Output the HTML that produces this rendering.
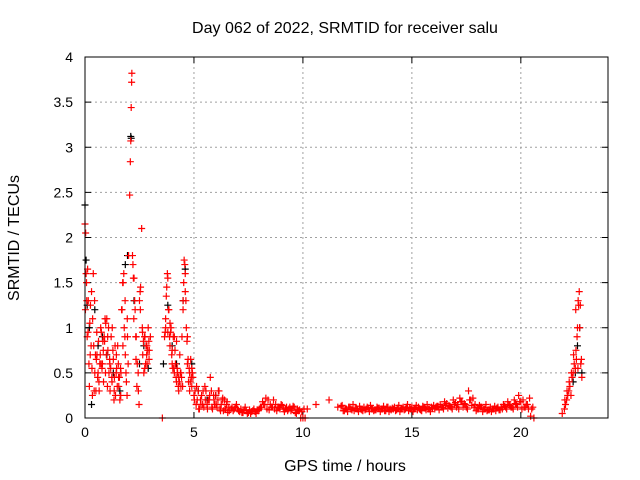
<!DOCTYPE html>
<html><head><meta charset="utf-8"><style>
body{margin:0;background:#fff}
svg{display:block;font-family:"Liberation Sans",sans-serif}
</style></head><body>
<svg id="c" width="640" height="480">
<rect x="0" y="0" width="640" height="480" fill="#fff"/>
<text x="345" y="33" font-size="16" text-anchor="middle">Day 062 of 2022, SRMTID for receiver salu</text>
<text x="345" y="471" font-size="16" text-anchor="middle">GPS time / hours</text>
<text transform="translate(19,238) rotate(-90)" font-size="16" text-anchor="middle">SRMTID / TECUs</text>
<g id="grid"></g><g id="ticks"></g><g id="black"></g><g id="red"></g>
<rect x="85" y="57" width="523" height="361" fill="none" stroke="#000"/>
</svg>
<script>
const xTicks=[0,5,10,15,20];
const yTicks=[0,0.5,1,1.5,2,2.5,3,3.5,4];
const yTickLabels=["0","0.5","1","1.5","2","2.5","3","3.5","4"];
const redT=[0,0.03,0.05,0.08,0.1,0.12,0.15,0.18,0.2,0.22,0.25,0.28,0.3,0.32,0.35,0.38,0.4,0.42,0.45,0.48,0.5,0.52,0.55,0.58,0.6,0.62,0.65,0.68,0.7,0.72,0.75,0.78,0.8,0.82,0.85,0.88,0.9,0.92,0.95,0.98,1,1.03,1.05,1.08,1.1,1.13,1.15,1.18,1.2,1.23,1.25,1.28,1.3,1.33,1.35,1.38,1.4,1.43,1.45,1.48,1.5,1.53,1.55,1.58,1.6,1.63,1.65,1.68,1.7,1.73,1.75,1.78,1.8,1.83,1.85,1.88,1.9,1.93,1.95,1.98,2,2.05,2.08,2.1,2.12,2.14,2.15,2.18,2.2,2.22,2.25,2.28,2.3,2.33,2.35,2.38,2.4,2.45,2.48,2.5,2.53,2.55,2.6,2.63,2.65,2.68,2.7,2.73,2.75,2.78,2.8,2.83,2.85,2.88,2.9,2.93,2.95,3,3.55,3.65,3.68,3.7,3.73,3.75,3.78,3.8,3.83,3.85,3.88,3.9,3.93,3.95,3.98,4,4.03,4.05,4.08,4.1,4.13,4.15,4.18,4.2,4.23,4.25,4.28,4.3,4.33,4.35,4.38,4.4,4.43,4.45,4.48,4.5,4.53,4.55,4.58,4.6,4.63,4.65,4.68,4.7,4.73,4.75,4.78,4.8,4.83,4.85,4.88,4.9,4.93,4.95,5,5.05,5.1,5.15,5.2,5.25,5.3,5.35,5.4,5.45,5.5,5.55,5.6,5.65,5.7,5.75,5.8,5.85,5.9,5.95,6,6.05,6.1,6.15,6.2,6.25,6.3,6.35,6.4,6.45,6.5,6.55,6.6,6.7,6.8,6.9,7,7.1,7.2,7.3,7.4,7.5,7.6,7.7,7.8,7.9,8,8.1,8.2,8.3,8.4,8.5,8.6,8.7,8.8,8.9,9,9.1,9.2,9.3,9.4,9.5,9.6,9.7,9.8,9.9,10,10.1,10.2,10.6,11.2,11.6,11.8,11.9,12,12.1,12.2,12.3,12.4,12.5,12.6,12.7,12.8,12.9,13,13.1,13.2,13.3,13.4,13.5,13.6,13.7,13.8,13.9,14,14.1,14.2,14.3,14.4,14.5,14.6,14.7,14.8,14.9,15,15.1,15.2,15.3,15.4,15.5,15.6,15.7,15.8,15.9,16,16.1,16.2,16.3,16.4,16.5,16.6,16.7,16.8,16.9,17,17.1,17.2,17.3,17.4,17.5,17.6,17.7,17.8,17.9,18,18.1,18.2,18.3,18.4,18.5,18.6,18.7,18.8,18.9,19,19.1,19.2,19.3,19.4,19.5,19.6,19.7,19.8,19.9,20,20.1,20.2,20.3,20.4,20.5,20.6,21.9,22,22.05,22.1,22.15,22.2,22.25,22.3,22.35,22.4,22.45,22.5,22.53,22.55,22.58,22.6,22.63,22.65,22.68,22.7,22.73,22.75,22.78,22.8,22.85];
const redV=[2.15,2.05,1.6,1.3,0.9,1.65,1.3,0.6,0.35,1.05,1.25,0.8,1.4,0.55,1.1,1.6,0.8,0.3,0.5,0.7,0.3,0.65,0.7,0.45,0.5,0.85,0.3,0.6,0.7,1.0,0.95,0.55,0.6,0.85,0.4,0.9,0.85,1.1,1.05,0.7,1.1,0.35,0.75,1.0,0.5,0.65,0.3,0.55,0.9,0.45,1.0,0.75,0.65,0.2,0.45,0.8,0.25,0.5,0.55,0.35,0.8,0.6,0.35,0.45,0.2,0.55,0.5,1.2,1.2,1.5,1.5,1.6,1.0,0.9,0.7,0.5,0.4,0.25,0.9,0.6,1.8,2.47,2.84,3.07,3.44,3.72,3.82,1.8,1.7,1.55,1.55,1.3,1.2,0.9,0.9,0.35,0.6,0.3,0.15,1.3,1.4,1.45,2.1,1.0,0.7,0.85,0.5,0.9,0.9,0.6,0.8,0.7,0.6,0.75,1.0,0.85,0.75,0.9,0.0,0.9,0.95,1.0,1.35,1.45,1.6,1.55,1.2,1.2,0.9,0.8,0.95,1.0,0.7,0.75,0.55,0.9,0.55,0.9,0.75,0.6,0.45,0.4,0.55,0.5,0.35,0.3,0.4,0.7,0.5,0.5,0.45,0.9,0.35,1.3,1.5,1.75,1.7,1.6,1.3,1.0,0.85,0.6,0.65,0.4,0.55,0.5,0.4,0.65,0.45,0.35,0.5,0.45,0.25,0.3,0.15,0.2,0.3,0.1,0.2,0.25,0.15,0.12,0.35,0.3,0.15,0.2,0.2,0.45,0.3,0.1,0.25,0.15,0.25,0.12,0.2,0.3,0.1,0.15,0.2,0.08,0.2,0.1,0.15,0.06,0.12,0.1,0.08,0.12,0.1,0.07,0.06,0.09,0.08,0.06,0.05,0.08,0.07,0.09,0.1,0.12,0.15,0.22,0.2,0.15,0.12,0.1,0.08,0.12,0.15,0.1,0.1,0.08,0.12,0.1,0.12,0.05,0.08,0.0,0.0,0.0,0.1,0.15,0.2,0.12,0.14,0.08,0.1,0.12,0.1,0.15,0.11,0.1,0.13,0.09,0.12,0.1,0.11,0.14,0.1,0.09,0.12,0.11,0.1,0.13,0.08,0.12,0.1,0.11,0.12,0.09,0.14,0.1,0.12,0.1,0.15,0.11,0.12,0.1,0.14,0.12,0.09,0.13,0.11,0.15,0.1,0.12,0.14,0.12,0.13,0.15,0.12,0.18,0.16,0.14,0.12,0.2,0.17,0.15,0.22,0.18,0.16,0.12,0.3,0.2,0.22,0.15,0.1,0.14,0.12,0.1,0.15,0.09,0.12,0.1,0.13,0.11,0.09,0.12,0.15,0.12,0.18,0.14,0.12,0.2,0.15,0.25,0.18,0.2,0.12,0.15,0.22,0.1,0.0,0.05,0.1,0.15,0.2,0.25,0.3,0.35,0.25,0.45,0.5,0.6,0.55,0.75,0.65,0.9,1.0,1.3,1.25,1.4,1.0,1.25,0.6,0.65,0.45];
const red2T=[0.02,0.07,0.14,0.24,0.34,0.44,0.54,0.64,0.74,0.84,0.94,1.04,1.14,1.24,1.34,1.44,1.54,1.64,1.74,1.84,1.94,2.24,2.34,2.44,2.54,2.64,2.74,2.84,2.94,3.7,3.8,3.9,4.0,4.1,4.2,4.3,4.4,4.5,4.6,4.7,4.8,4.9,5.02,5.12,5.22,5.32,5.42,5.52,5.62,5.72,5.82,5.92,6.02,6.12,6.22,6.32,6.42,6.52,6.62,6.75,6.85,6.95,7.05,7.15,7.25,7.35,7.45,7.55,7.65,7.75,7.85,7.95,8.05,8.15,8.25,8.35,8.45,8.55,8.65,8.75,8.85,8.95,9.05,9.15,9.25,9.35,9.45,9.55,9.65,9.75,9.85,9.95,10.05,11.75,11.85,11.95,12.05,12.15,12.25,12.35,12.45,12.55,12.65,12.75,12.85,12.95,13.05,13.15,13.25,13.35,13.45,13.55,13.65,13.75,13.85,13.95,14.05,14.15,14.25,14.35,14.45,14.55,14.65,14.75,14.85,14.95,15.05,15.15,15.25,15.35,15.45,15.55,15.65,15.75,15.85,15.95,16.05,16.15,16.25,16.35,16.45,16.55,16.65,16.75,16.85,16.95,17.05,17.15,17.25,17.35,17.45,17.55,17.65,17.75,17.85,17.95,18.05,18.15,18.25,18.35,18.45,18.55,18.65,18.75,18.85,18.95,19.05,19.15,19.25,19.35,19.45,19.55,19.65,19.75,19.85,19.95,20.05,20.15,20.25,20.35,20.45,20.55,22.02,22.12,22.22,22.32,22.42,22.52,22.62,22.72,22.82];
const red2V=[1.2,1.5,0.95,0.7,0.25,1.3,0.95,0.4,0.6,0.75,0.5,0.9,0.6,0.4,0.3,0.7,0.45,0.25,0.8,1.3,1.1,1.1,0.65,0.5,1.2,0.95,0.55,0.8,0.65,1.1,0.95,1.05,0.6,0.5,0.85,0.45,0.35,1.2,1.4,0.9,0.3,0.55,0.2,0.35,0.1,0.15,0.3,0.2,0.1,0.25,0.12,0.2,0.15,0.3,0.08,0.22,0.1,0.18,0.08,0.12,0.1,0.15,0.08,0.1,0.06,0.12,0.05,0.09,0.07,0.1,0.05,0.08,0.12,0.18,0.15,0.1,0.09,0.12,0.2,0.15,0.12,0.1,0.14,0.07,0.12,0.1,0.08,0.13,0.06,0.1,0.09,0.07,0.1,0.13,0.08,0.1,0.07,0.12,0.09,0.08,0.11,0.07,0.1,0.08,0.09,0.12,0.07,0.1,0.08,0.09,0.11,0.07,0.1,0.08,0.12,0.07,0.09,0.1,0.08,0.11,0.07,0.1,0.09,0.12,0.08,0.1,0.07,0.11,0.09,0.1,0.08,0.12,0.09,0.1,0.07,0.11,0.1,0.13,0.09,0.12,0.1,0.14,0.11,0.13,0.1,0.15,0.12,0.1,0.18,0.12,0.15,0.1,0.2,0.14,0.12,0.08,0.1,0.12,0.07,0.1,0.08,0.09,0.07,0.1,0.08,0.12,0.09,0.1,0.13,0.1,0.15,0.12,0.1,0.16,0.12,0.18,0.1,0.12,0.15,0.1,0.02,0.12,0.2,0.3,0.4,0.5,0.7,1.2,0.55];
const blackT=[0,0.05,0.1,0.2,0.3,0.45,0.6,0.8,1.0,1.3,1.6,1.85,1.95,2.1,2.12,2.25,2.5,2.7,2.9,3.6,3.8,4.0,4.2,4.5,4.6,4.9,5.2,5.6,6.0,22.4,22.5,22.6,22.7,22.8];
const blackV=[2.36,1.75,1.25,1.0,0.15,1.2,0.8,0.9,0.7,0.5,0.3,1.7,1.8,3.12,3.1,1.3,0.6,0.8,0.55,0.6,1.25,0.8,0.6,1.3,1.65,0.6,0.3,0.2,0.25,0.4,0.5,0.8,1.0,0.5];
const X0=85,X1=608,Y0=418,Y1=57;
const xs=t=>X0+(X1-X0)*t/24, ys=v=>Y0-(Y0-Y1)*v/4;
const NS="http://www.w3.org/2000/svg";
function mk(tag,at,par){const e=document.createElementNS(NS,tag);for(const k in at)e.setAttribute(k,at[k]);document.getElementById(par).appendChild(e);return e;}
xTicks.forEach(t=>{const x=xs(t);
 if(t>0){const g=mk('line',{x1:x,x2:x,y1:Y1,y2:Y0,stroke:'#a0a0a0','stroke-dasharray':'2,3'},'grid');
 
 }
 mk('line',{x1:x,x2:x,y1:Y0,y2:Y0-6,stroke:'#000'},'ticks');mk('line',{x1:x,x2:x,y1:Y1,y2:Y1+6,stroke:'#000'},'ticks');
 const l=mk('text',{x:x,y:Y0+19,'font-size':14,'text-anchor':'middle'},'ticks');l.textContent=t;
 
 });
yTicks.forEach((v,i)=>{const y=ys(v);
 if(v>0&&v<4){const g=mk('line',{x1:X0,x2:X1,y1:y,y2:y,stroke:'#a0a0a0','stroke-dasharray':'2,3'},'grid');
 
 }
 mk('line',{x1:X0,x2:X0+6,y1:y,y2:y,stroke:'#000'},'ticks');mk('line',{x1:X1,x2:X1-6,y1:y,y2:y,stroke:'#000'},'ticks');
 const l=mk('text',{x:X0-12,y:y+5,'font-size':14,'text-anchor':'end'},'ticks');l.textContent=yTickLabels[i];
 
 });
function plus(t,v,col,par){const x=xs(t),y=ys(v);
 const p=mk('path',{d:`M${x-3.5} ${y}H${x+3.5}M${x} ${y-3.5}V${y+3.5}`,stroke:col,'stroke-width':1.2,fill:'none'},par);
 
 }
blackT.forEach((t,i)=>plus(t,blackV[i],'#000','black'));
redT.forEach((t,i)=>plus(t,redV[i],'#ff0000','red'));
red2T.forEach((t,i)=>plus(t,red2V[i],'#ff0000','red'));
</script>
</body></html>
